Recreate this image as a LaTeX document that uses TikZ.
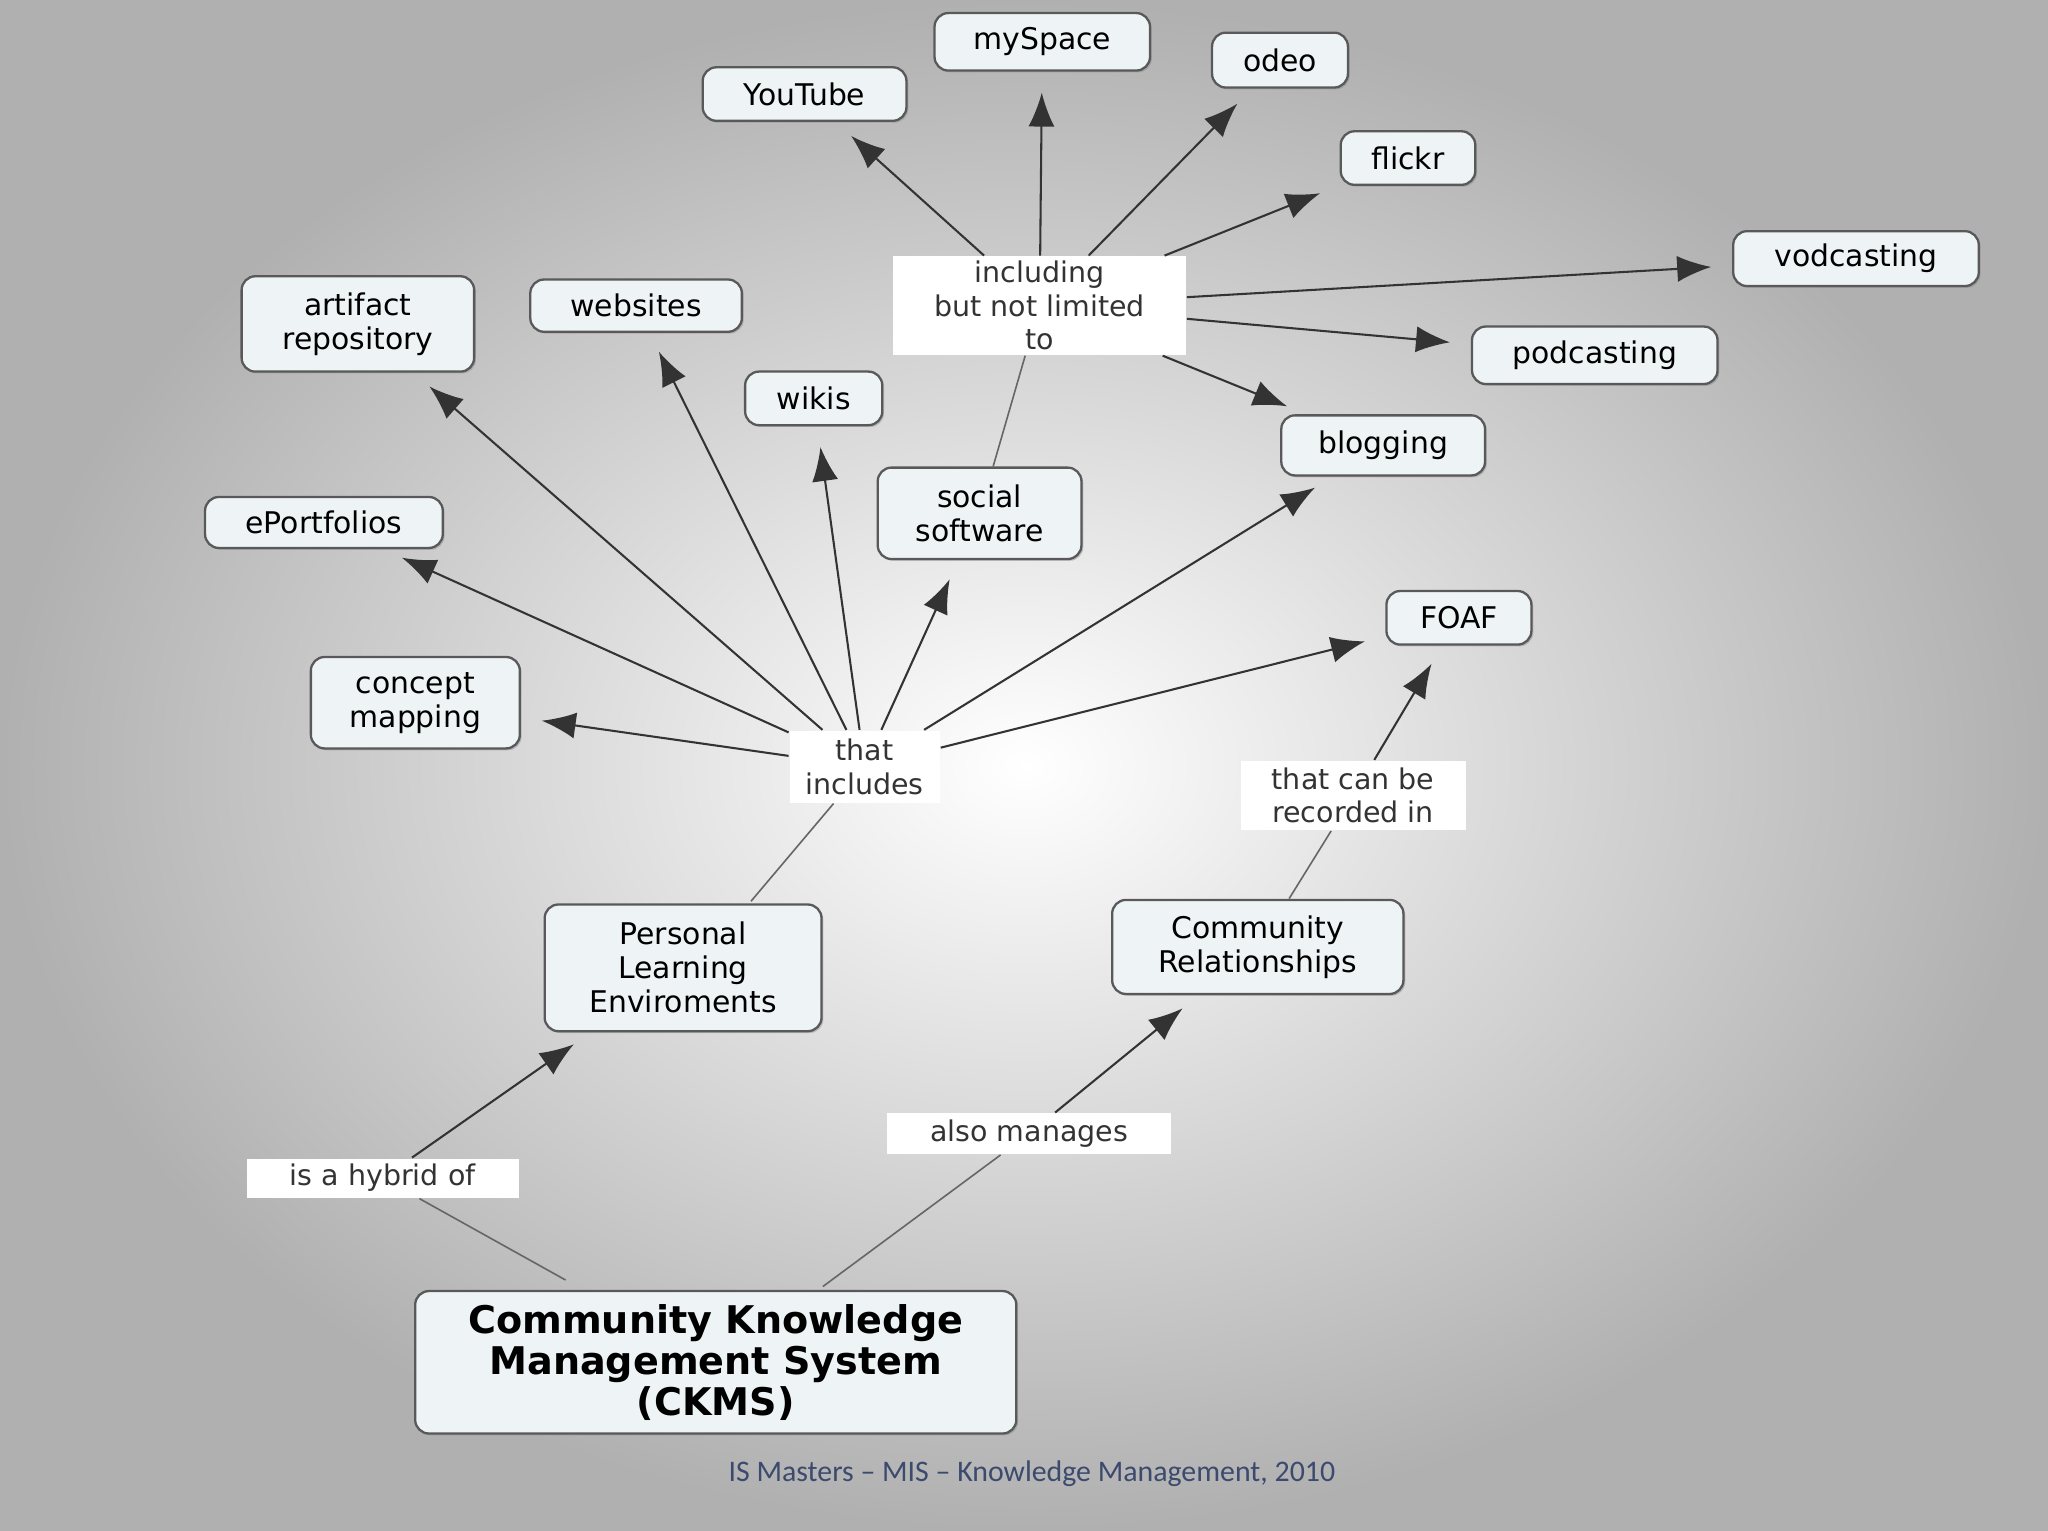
\documentclass[tikz,border=0pt]{standalone}
\usepackage{fontspec}
\setmainfont{DejaVu Sans}
\newfontfamily\footfont{Carlito}
\usetikzlibrary{arrows.meta,shadows}
\definecolor{boxfill}{HTML}{EEF4F6}
\definecolor{footc}{HTML}{3C4A6E}
\tikzset{
 cbox/.style={draw=gray!70!black,line width=0.5pt,rounded corners=3pt,fill=boxfill,align=center,inner sep=1pt,font=\fontsize{6.5}{7.4}\selectfont,drop shadow={shadow xshift=0.4pt,shadow yshift=-0.4pt,opacity=0.4}},
 lbl/.style={fill=white,align=center,inner sep=1pt,font=\fontsize{6.2}{7.3}\selectfont,text=black!80},
 arr/.style={-{Latex[length=2.6mm,width=2mm]},line width=0.45pt,black!80,shorten >=1.6mm},
 ln/.style={line width=0.35pt,black!60}
}
\begin{document}
\begin{tikzpicture}[x=0.01cm,y=-0.01cm]
\shade[inner color=white,outer color=gray!62] (0,0) rectangle (1568,1172);
\useasboundingbox (0,0) rectangle (1568,1172);
\newcommand\bx[6]{\node[cbox,minimum width=#4*0.01cm,minimum height=#5*0.01cm] (#1) at (#2,#3) {#6};}
\bx{yt}{616}{72}{156}{41}{YouTube}
\bx{ms}{798}{32}{165}{44}{mySpace}
\bx{od}{980}{46}{104}{42}{odeo}
\bx{fl}{1078}{121}{103}{41}{flickr}
\bx{vc}{1421}{198}{188}{42}{vodcasting}
\bx{pc}{1221}{272}{188}{44}{podcasting}
\bx{bl}{1059}{341}{156}{46}{blogging}
\bx{ar}{274}{248}{178}{73}{artifact\\repository}
\bx{ws}{487}{234}{162}{40}{websites}
\bx{wk}{623}{305}{105}{41}{wikis}
\bx{ep}{248}{400}{182}{39}{ePortfolios}
\bx{ss}{750}{393}{156}{70}{social\\software}
\bx{fo}{1117}{473}{111}{41}{FOAF}
\bx{cm}{318}{538}{160}{70}{concept\\mapping}
\bx{ple}{523}{741}{212}{97}{Personal\\Learning\\Enviroments}
\bx{cr}{963}{725}{223}{72}{Community\\Relationships}
\node[cbox,minimum width=4.6cm,minimum height=1.09cm,font=\bfseries\fontsize{8.3}{8.9}\selectfont] (ck) at (548,1043) {Community Knowledge\\Management System\\(CKMS)};
\node[lbl,minimum width=2.24cm,minimum height=0.72cm] (inc) at (796,234) {including\\but not limited\\to};
\node[lbl,minimum width=1.15cm,minimum height=0.55cm] (ti) at (662,587) {that\\includes};
\node[lbl,minimum width=1.72cm,minimum height=0.53cm] (tc) at (1036,609) {that can be\\recorded in};
\node[lbl,minimum width=2.17cm,minimum height=0.31cm] (am) at (788,868) {also manages};
\node[lbl,minimum width=2.08cm,minimum height=0.30cm] (hy) at (293,902) {is a hybrid of};
\node[font=\footfont\fontsize{6.5}{8}\selectfont,text=footc] (ft) at (790,1128) {IS Masters – MIS – Knowledge Management, 2010};
% connectors
\draw[ln] (433,980) -- (hy);
\draw[arr] (hy) -- (ple);
\draw[ln] (630,985) -- (am);
\draw[arr] (am) -- (cr);
\draw[ln] (987,688) -- (tc);
\draw[arr] (tc) -- (fo);
\draw[ln] (575,690) -- (ti);
\foreach \t in {cm,ep,ar,ws,wk,ss,bl,fo} \draw[arr] (ti) -- (\t);
\draw[ln] (ss) -- (inc);
\foreach \t in {yt,ms,od,fl,vc,pc,bl} \draw[arr] (inc) -- (\t);
\end{tikzpicture}
\end{document}
